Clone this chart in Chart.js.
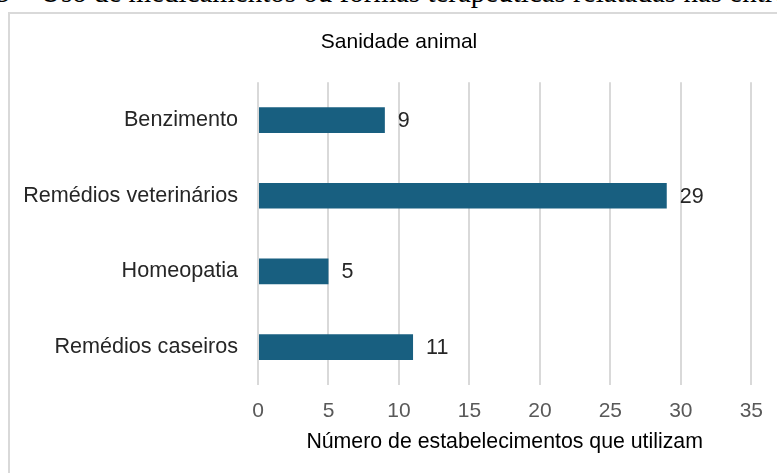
<!DOCTYPE html>
<html>
<head>
<meta charset="utf-8">
<script src="https://cdn.jsdelivr.net/npm/chart.js@4/dist/chart.umd.min.js"></script>
<style>
  html, body { margin: 0; padding: 0; background: #fff; overflow: hidden; }
  #page { position: relative; width: 777px; height: 473px; overflow: hidden; }
  .cap { position: absolute; top: -22px; font-family: "Liberation Serif", serif; font-size: 29px; line-height: 29px; color: #000; white-space: nowrap; }
  #frame { position: absolute; left: 8px; top: 12px; width: 820px; height: 520px; border: 2px solid #d9d9d9; box-sizing: border-box; }
  #wrap { position: absolute; left: 0; top: 0; width: 777px; height: 473px; }
</style>
</head>
<body>
<div id="page">
  <div class="cap" style="right:744px;">Figura 19 –</div>
  <div class="cap" style="left:40px;">Uso de medicamentos ou formas terapêuticas relatadas nas entrevistas</div>
  <div id="frame"></div>
  <div id="wrap"><canvas id="c" width="777" height="473"></canvas></div>
</div>
<script>
const chartTitle = "Sanidade animal";
const categories = ["Benzimento", "Remédios veterinários", "Homeopatia", "Remédios caseiros"];
const values = [9, 29, 5, 11];
const xTitle = "Número de estabelecimentos que utilizam";
const xMin = 0, xMax = 35, xStep = 5;

const FONT = "'Liberation Sans', Arial, sans-serif";

const valueLabels = {
  id: 'valueLabels',
  afterLayout(chart) {
    // centre the title on the outer frame rather than the canvas
    const t = chart.titleBlock;
    if (t) { t.left += 22; t.right += 22; }
  },
  afterDatasetsDraw(chart) {
    const ctx = chart.ctx;
    const meta = chart.getDatasetMeta(0);
    ctx.save();
    ctx.font = "21.5px " + FONT;
    ctx.fillStyle = "#262626";
    ctx.textAlign = "left";
    ctx.textBaseline = "middle";
    meta.data.forEach((bar, i) => {
      ctx.fillText(String(values[i]), bar.x + 13, bar.y + 1);
    });
    ctx.restore();
  }
};

new Chart(document.getElementById('c'), {
  type: 'bar',
  data: {
    labels: categories,
    datasets: [{
      data: values,
      backgroundColor: '#185f80',
      borderWidth: 0,
      categoryPercentage: 1,
      barPercentage: 0.34
    }]
  },
  options: {
    indexAxis: 'y',
    responsive: false,
    animation: false,
    layout: { padding: { left: 0, right: 23, top: 0, bottom: 0 } },
    plugins: {
      legend: { display: false },
      tooltip: { enabled: false },
      title: {
        display: true,
        text: chartTitle,
        color: '#000',
        font: { family: FONT, size: 21, weight: 'normal' },
        padding: { top: 30, bottom: 27 }
      }
    },
    scales: {
      x: {
        min: xMin, max: xMax,
        border: { display: false },
        grid: { color: '#d9d9d9', lineWidth: 2, drawTicks: false },
        ticks: { stepSize: xStep, color: '#595959', padding: 14, font: { family: FONT, size: 21 } },
        title: {
          display: true, text: xTitle, color: '#000',
          font: { family: FONT, size: 21.3 },
          padding: { top: 1, bottom: 18 }
        },
        afterFit(scale) { scale.height = 88; }
      },
      y: {
        border: { display: false },
        grid: { display: false, drawTicks: false },
        ticks: { color: '#262626', padding: 20, font: { family: FONT, size: 21.6 } },
        afterFit(scale) { scale.width = 258; }
      }
    }
  },
  plugins: [valueLabels]
});
</script>
</body>
</html>
